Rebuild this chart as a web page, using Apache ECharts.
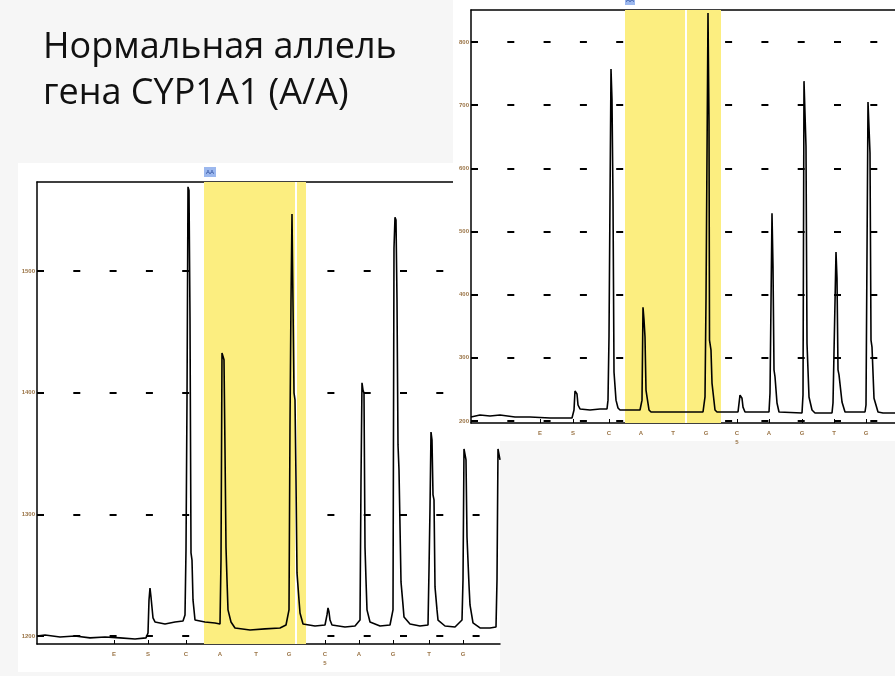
<!DOCTYPE html>
<html><head><meta charset="utf-8">
<script src="https://cdn.jsdelivr.net/npm/echarts@6/dist/echarts.min.js"></script>
<style>html,body{margin:0;padding:0;background:#f6f6f6}#c{width:895px;height:676px}</style>
</head><body><div id="c"></div>
<script>
// ---------- data ----------
const titleText = 'Нормальная аллель\nгена CYP1A1 (A/A)';
const dispLabels = ['E','S','C','A','T','G','C\n5','A','G','T','G'];

// Panel 1 (lower-left pyrogram)
const dispTicks1 = [77,111,149,183,219,252,288,322,356,392,426];
const yTicks1 = [0,100,200,300];
const yLabels1 = ['1200','1300','1400','1500'];
const band1 = [167,269];
const cut1 = 259;
const traceT1 = [0,8,23,38,53,68,83,98,109,111,112,113,114,115,116,118,128,138,146,148,149,150,151,152,153,154,155,156,158,168,178,183,184,185,186,187,188,189,190,191,194,198,213,228,243,249,252,253,254,255,256,257,258,259,260,262,263,266,278,288,290,291,292,293,295,308,318,323,324,325,326,327,328,329,330,333,343,353,356,357,358,359,360,361,362,364,366,367,373,383,391,392,393,394,395,396,397,398,400,401,408,418,425,426,427,428,429,430,432,433,436,443,453,459,460,461,462,463];
const traceV1 = [0,0.8,-0.8,0,-1.6,-0.8,-1.6,-2.5,-1.6,2.5,29.6,39.4,32,31.2,14.8,11.5,9.9,11.5,12.3,17.3,70.7,194,369,366,260.5,68.2,62.4,29.6,13.1,11.5,10.7,9.9,62.4,232.5,231,227,152.8,73,46,21.4,11.5,6.6,4.9,5.8,6.6,9,21.4,173.4,276,346.8,346,199.7,194,128,51.8,29.6,18.9,9.9,8.2,9,17.3,23,19.7,13.1,9,7.4,8.2,13.1,128,208,202,199.7,73,46,21.4,11.5,8.2,9,21.4,318.8,344,341.8,276,157,136.4,44.4,25.5,15.6,9.9,8.2,9,54.2,105,167.6,161,115.9,111.8,40.3,21.4,13.1,8.2,7.4,13.1,46,153.7,152.8,144.6,81.3,41.9,25.5,10.7,6.6,6.6,7.4,46,153.7,153.7,144.6];

// Panel 2 (upper-right pyrogram)
const dispTicks2 = [69,102,138,170,202,235,266,298,331,363,395];
const yTicks2 = [0,100,200,300,400,500,600];
const yLabels2 = ['200','300','400','500','600','700','800'];
const band2 = [154,250];
const cut2 = 215;
const traceT2 = [0,9,19,29,44,59,79,101,103,104,106,107,109,119,129,136,137,138,139,140,141,142,143,145,147,149,159,169,171,172,173,174,175,176,178,180,209,232,234,235,237,238,238.5,240,241,244,246,267,269,271,272,274,298,299,301,302,303,304,306,308,331,332,333,335,336,338,341,344,361,362,365,366,367,368,371,374,394,395,397,399,400,401,403,407,412,424];
const traceV2 = [6.3,9.5,7.9,9.5,6.3,6.3,4.7,4.7,17.4,47.5,42.7,25.3,19,17.4,19,19,33,133,350,557,508,350,77.6,33,20.6,17.4,17.4,17.4,33,180,160,133,49,38,17.4,14.2,14.2,14.2,38,191.5,646,472,128,112,60,17.4,14.2,14.2,41,36,22,14.2,14.2,44,329,244,81,70,28.5,14.2,12.7,41,538,434,123,38,17.4,12.7,12.7,28.5,267.5,226,81,73,30,14.2,14.2,25.3,505,424,128,117,36,14.2,12.7,12.7];

// ---------- build ----------
const zip = (a,b) => a.map((t,i) => [t,b[i]]);
const yellow = '#fcee80';
const labelColor = '#9a7446';

function panel(idx, zl, grid, xMax, yMin, yMax, ticksX, ticksY, labelsY, band, cut, data) {
  return {
    grid: {left: grid[0], top: grid[1], width: grid[2], height: grid[3], zlevel: zl, containLabel: false},
    xAxes: [{
      type: 'value', gridIndex: idx, min: 0, max: xMax, zlevel: zl,
      axisLine: {show: true, onZero: false, lineStyle: {color: '#000', width: 1.5}},
      axisTick: {show: true, inside: true, length: 4, customValues: ticksX, lineStyle: {color: '#000'}},
      axisLabel: {show: true, customValues: ticksX, margin: 6, fontSize: 6, fontWeight: 'bold', color: labelColor, lineHeight: 9,
        formatter: v => dispLabels[ticksX.indexOf(v)] || ''},
      splitLine: {show: false}
    },{
      type: 'value', gridIndex: idx, position: 'top', min: 0, max: xMax, zlevel: zl,
      axisLine: {show: true, onZero: false, lineStyle: {color: '#000', width: 1.5}},
      axisTick: {show: false}, axisLabel: {show: false}, splitLine: {show: false}
    }],
    yAxis: {
      type: 'value', gridIndex: idx, min: yMin, max: yMax, zlevel: zl,
      axisLine: {show: true, onZero: false, lineStyle: {color: '#000', width: 1.5}},
      axisTick: {show: true, inside: true, length: 6, customValues: ticksY, lineStyle: {color: '#000', width: 2}},
      axisLabel: {show: true, customValues: ticksY, margin: 2, fontSize: 6, fontWeight: 'bold', color: labelColor,
        formatter: v => labelsY[ticksY.indexOf(v)] || ''},
      splitLine: {show: true, lineStyle: {color: '#000', width: 2, type: [7, 29.3], dashOffset: 0}}
    },
    series: {
      type: 'line', xAxisIndex: idx*2, yAxisIndex: idx, zlevel: zl, data: data,
      showSymbol: false, symbol: 'none', animation: false, silent: true,
      lineStyle: {color: '#000', width: 1.6},
      markArea: {silent: true, zlevel: zl, z: 1, itemStyle: {color: yellow}, data: [[{xAxis: band[0]},{xAxis: band[1]}]]},
      markLine: {silent: true, zlevel: zl, z: 1.5, symbol: 'none', label: {show: false},
        lineStyle: {color: '#fff', width: 2, type: 'solid'}, data: [{xAxis: cut}]}
    }
  };
}

const p1 = panel(0, 0, [37,182,463,462], 463, -6.6, 373, dispTicks1, yTicks1, yLabels1, band1, cut1, zip(traceT1, traceV1));
const p2 = panel(1, 1, [471,10,424,413], 424, -3.2, 650.6, dispTicks2, yTicks2, yLabels2, band2, cut2, zip(traceT2, traceV2));

const chart = echarts.init(document.getElementById('c'), null, {renderer: 'canvas'});
chart.setOption({
  animation: false,
  backgroundColor: '#f6f6f6',
  title: {text: titleText, left: 38, top: 20, zlevel: 0,
    textStyle: {fontFamily: '"Open Sans", "Noto Sans", sans-serif', fontSize: 36, fontWeight: 'normal', color: '#111', lineHeight: 46}},
  graphic: [
    {type: 'rect', zlevel: 0, z: -10, shape: {x: 18, y: 163, width: 482, height: 509}, style: {fill: '#fff'}, silent: true},
    {type: 'rect', zlevel: 1, z: -10, shape: {x: 453, y: 0, width: 442, height: 441}, style: {fill: '#fff'}, silent: true},
    {type: 'text', zlevel: 0, z: 10, x: 204, y: 167, style: {text: 'AA', fontSize: 6, fill: '#2a4a9a', backgroundColor: '#9cb8ee', padding: [2,2]}},
    {type: 'text', zlevel: 1, z: 10, x: 625, y: -5, style: {text: 'AA', fontSize: 6, fill: '#2a4a9a', backgroundColor: '#9cb8ee', padding: [2,1]}}
  ],
  grid: [p1.grid, p2.grid],
  xAxis: [...p1.xAxes, ...p2.xAxes],
  yAxis: [p1.yAxis, p2.yAxis],
  series: [p1.series, p2.series]
});
</script></body></html>
